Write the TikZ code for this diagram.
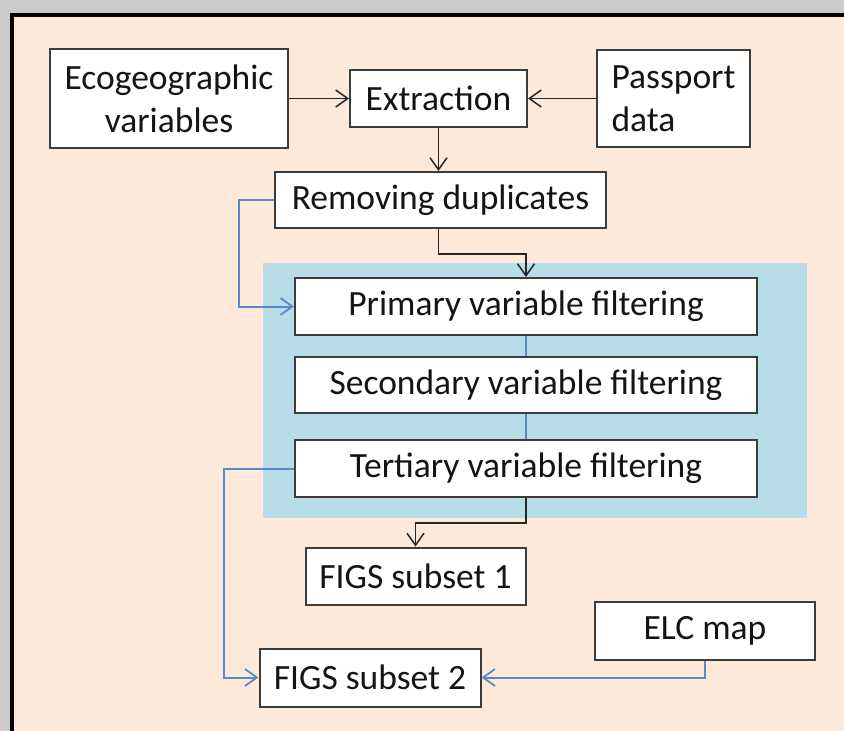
\documentclass[tikz,border=0pt]{standalone}
\usepackage{fontspec}
\setmainfont{Carlito}
\usetikzlibrary{arrows.meta,calc}
\definecolor{bggray}{HTML}{CBCBCB}
\definecolor{peach}{HTML}{FDE9D9}
\definecolor{aqua}{HTML}{B7DEE8}
\definecolor{conblue}{HTML}{5A8AC6}
\definecolor{boxline}{HTML}{3C3C3C}
\definecolor{txt}{HTML}{141414}
\tikzset{
  box/.style={draw=boxline, line width=2pt, fill=white, inner sep=0pt, text=txt,
    font=\fontsize{35.5}{43}\selectfont},
  blk/.style={draw=black!85, line width=1.5pt, -{Straight Barb[length=12pt,width=17pt,line width=1.5pt]}},
  bln/.style={draw=conblue, line width=2pt},
  blarr/.style={bln, -{Straight Barb[length=12pt,width=17pt,line width=1.8pt]}},
}
\begin{document}
\begin{tikzpicture}[x=1pt,y=-1pt]
\useasboundingbox (0,0) rectangle (844,731);
\clip (0,0) rectangle (844,731);
\fill[bggray] (0,0) rectangle (844,731);
\fill[peach] (12,15) rectangle (860,750);
\draw[black, line width=4pt] (12,750) -- (12,15) -- (860,15);
\fill[aqua] (263,263) rectangle (807,518);

\node[box, minimum width=238pt, minimum height=99pt, align=center] (eco) at (169,98.5) {Ecogeographic\\variables};
\node[box, minimum width=177pt, minimum height=57pt] (ext) at (438.5,98.5) {Extraction};
\node[box, minimum width=153pt, minimum height=97pt, align=left] (pass) at (673.5,98.5) {Passport\\data};
\node[box, minimum width=331pt, minimum height=56pt] (rem) at (440.5,200) {Removing duplicates};
\node[box, minimum width=462pt, minimum height=57pt] (prim) at (526,306.5) {Primary variable filtering};
\node[box, minimum width=462pt, minimum height=56pt] (sec) at (526,385) {Secondary variable filtering};
\node[box, minimum width=462pt, minimum height=57pt] (ter) at (526,468.5) {Tertiary variable filtering};
\node[box, minimum width=220pt, minimum height=57pt] (f1) at (415.5,576) {FIGS subset 1};
\node[box, minimum width=220pt, minimum height=58pt] (elc) at (705,631) {ELC map};
\node[box, minimum width=221pt, minimum height=58pt] (f2) at (370,677.5) {FIGS subset 2};

\draw[blk] (eco.east) -- (ext.west);
\draw[blk] (pass.west) -- (ext.east);
\draw[blk] (ext.south) -- (ext.south |- rem.north);
\draw[blk] (rem.south -| ext.south) -- ++(0,25) -| (prim.north);
\draw[blarr] (rem.west) -- ++(-35,0) |- (prim.west);
\draw[bln] (prim.south) -- (sec.north);
\draw[bln] (sec.south) -- (ter.north);
\draw[blk] (ter.south) -- ++(0,25) -| (f1.north);
\draw[blarr] (ter.west) -- ++(-70,0) |- (f2.west);
\draw[blarr] (elc.south) |- (f2.east);
\end{tikzpicture}
\end{document}
